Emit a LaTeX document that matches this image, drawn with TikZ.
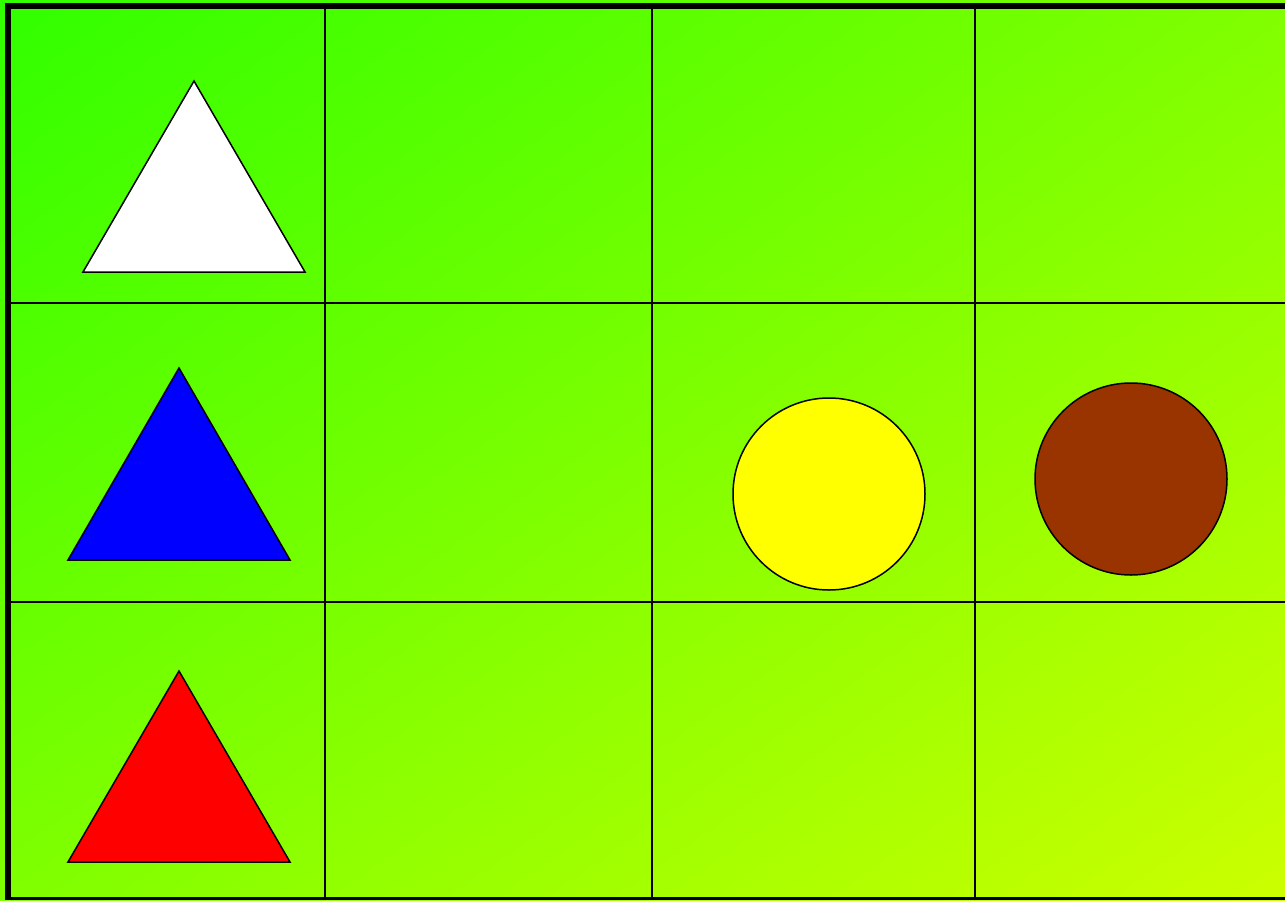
\documentclass[tikz,border=0pt]{standalone}
\usetikzlibrary{shadings}
\definecolor{fieldtl}{HTML}{30FF00}
\definecolor{fieldtr}{HTML}{80FF00}
\definecolor{fieldbl}{HTML}{7FFF00}
\definecolor{fieldbr}{HTML}{CCFF00}
\definecolor{tokwhite}{HTML}{FFFFFF}
\definecolor{tokblue}{HTML}{0000FF}
\definecolor{tokred}{HTML}{FF0000}
\definecolor{tokyellow}{HTML}{FFFF00}
\definecolor{tokbrown}{HTML}{993300}

\begin{document}
\begin{tikzpicture}[
  x=1pt, y=-1pt,
  gridline/.style={black, line width=2pt},
  frameline/.style={black, line width=6pt},
  token/.style={draw=black, line width=1.5pt, line join=miter}
]
\useasboundingbox (0,0) rectangle (1285,900);

% board background
\shade[upper left=fieldtl, upper right=fieldtr, lower left=fieldbl, lower right=fieldbr]
  (0,0) rectangle (1285,900);

% cell grid
\foreach \gx in {325,652,975}
  \draw[gridline] (\gx,5) -- (\gx,900);
\foreach \gy in {303,602}
  \draw[gridline] (7,\gy) -- (1285,\gy);
\draw[black, line width=3pt] (7,898.5) -- (1285,898.5);
\draw[frameline] (4.5,5.5) -- (1285,5.5);
\draw[frameline] (7.5,2.5) -- (7.5,900);

% triangles in the first column
\draw[token, fill=tokwhite] (194,81) -- (305,272) -- (83,272) -- cycle;
\draw[token, fill=tokblue] (179,368) -- (290,560) -- (68,560) -- cycle;
\draw[token, fill=tokred] (179,671) -- (290,862) -- (68,862) -- cycle;

% discs in the middle row
\draw[token, fill=tokyellow] (829,494) circle[radius=96];
\draw[token, fill=tokbrown] (1131,479) circle[radius=96];
\end{tikzpicture}
\end{document}
